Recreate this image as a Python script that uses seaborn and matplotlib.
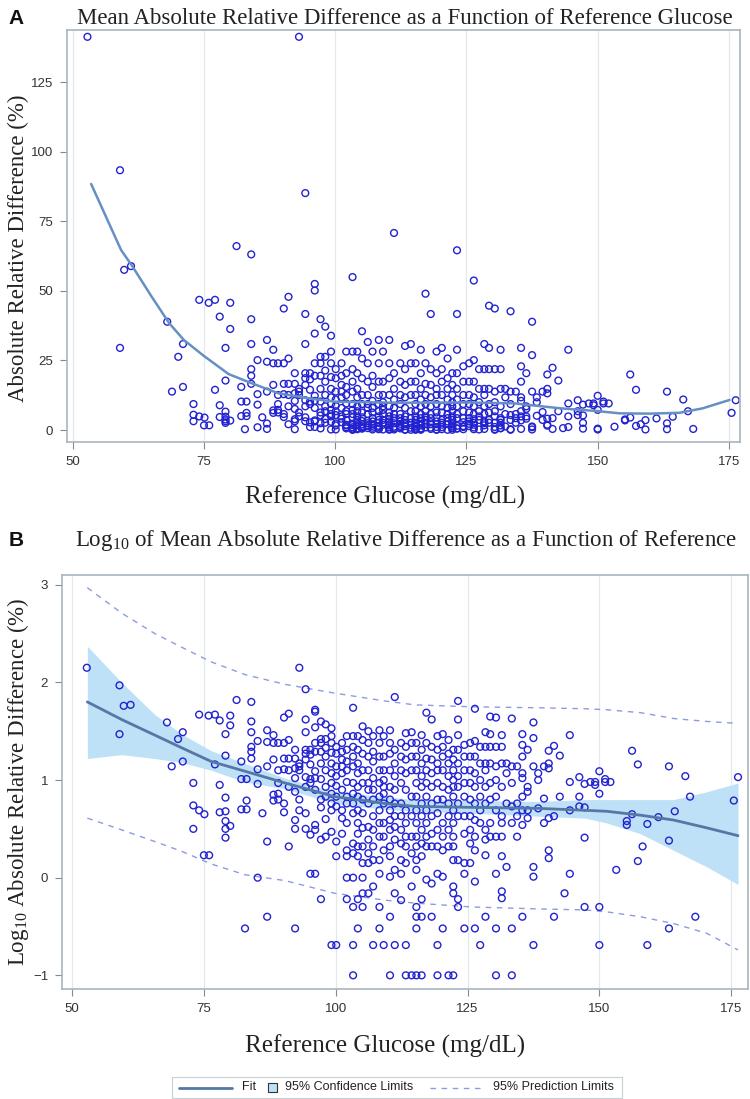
"""Glucose accuracy plots: ARD and log10 ARD against reference glucose."""

import matplotlib

matplotlib.use("Agg")
import matplotlib.pyplot as plt
from matplotlib.patches import Rectangle
import pandas as pd
import seaborn as sns

# Points as (reference glucose, list of log10 ARD values).
columns = [
    (52.8, [2.15]), (59.0, [1.97, 1.47]), (59.8, [1.76]), (61.1, [1.77]),
    (68.0, [1.59]), (68.9, [1.14]), (70.1, [1.42]), (71.0, [1.49, 1.19]),
    (73.0, [0.97, 0.74, 0.50]), (74.1, [1.67, 0.69]), (75.1, [0.65]),
    (75.0, [0.23]), (76.0, [0.23]), (75.9, [1.66]), (77.1, [1.67, 1.16]),
    (78.0, [1.61, 0.95, 0.67]),
    (79.1, [1.47, 1.25, 0.82, 0.68, 0.58, 0.50, 0.41]),
    (80.0, [1.66, 1.56, 0.53]), (81.2, [1.82]), (82.1, [1.19, 1.01, 0.70]),
    (82.8, [-0.52]), (83.1, [1.01, 0.79, 0.70]),
    (84.0, [1.80, 1.60, 1.49, 1.34, 1.29, 1.22]),
    (85.2, [1.40, 1.11, 0.96, 0.00]), (86.1, [0.66]),
    (87.0, [1.51, 1.39, 1.14, 0.37, -0.40]),
    (88.2, [1.46, 1.38, 1.21, 0.85, 0.79]),
    (89.1, [1.38, 1.10, 0.97, 0.86, 0.80]),
    (90.2, [1.64, 1.38, 1.22, 1.11, 0.76, 0.67]),
    (91.1, [1.68, 1.41, 1.22, 1.10, 0.93, 0.32]),
    (92.3, [1.31, 1.22, 1.12, 1.02, 0.88, 0.59, 0.50, -0.52]),
    (93.1, [2.15, 1.17, 1.14, 1.10, 0.80, 0.69]),
    (94.3, [1.93, 1.62, 1.49, 1.31, 1.27, 1.21, 1.03, 0.93, 0.66, 0.50]),
    (95.2, [1.31, 1.26, 1.16, 1.01, 0.97, 0.44, 0.04]),
    (96.1, [1.72, 1.70, 1.54, 1.38, 1.29, 1.09, 1.02, 0.90, 0.54, 0.49,
            0.04]),
    (97.2, [1.60, 1.42, 1.38, 1.29, 1.17, 1.01, 0.80, 0.72, 0.39, -0.22]),
    (98.1, [1.57, 1.42, 1.33, 1.24, 1.10, 0.93, 0.83, 0.60, 0.42]),
    (99.2, [1.53, 1.45, 1.38, 1.28, 1.17, 1.07, 0.97, 0.86, 0.76, 0.69,
            0.47, -0.69]),
    (100.1, [1.34, 1.27, 1.14, 1.04, 0.94, 0.83, 0.73, 0.37, 0.22, -0.69]),
    (101.2, [1.38, 1.29, 1.21, 1.14, 1.07, 0.90, 0.69, 0.61, 0.45]),
    (102.1, [1.45, 1.31, 1.19, 1.10, 0.98, 0.83, 0.76, 0.56, 0.28, 0.22,
             0.00, -0.22]),
    (103.3, [1.74, 1.45, 1.34, 1.24, 1.14, 0.97, 0.86, 0.76, 0.66, 0.35,
             0.25, 0.00, -0.30, -0.69, -1.00]),
    (104.2, [1.45, 1.31, 1.17, 1.07, 0.93, 0.83, 0.69, 0.56, 0.45, 0.32,
             0.22, -0.22, -0.52]),
    (105.1, [1.55, 1.41, 1.27, 1.10, 0.97, 0.80, 0.66, 0.51, 0.32, 0.15,
             0.00, -0.16, -0.30]),
    (106.2, [1.50, 1.38, 1.24, 1.10, 0.97, 0.90, 0.76, 0.52, 0.39, 0.25,
             0.15, -0.16]),
    (107.1, [1.45, 1.29, 1.19, 1.02, 0.90, 0.80, 0.63, 0.49, 0.32, 0.18,
             -0.09, -0.69]),
    (108.3, [1.51, 1.38, 1.24, 1.10, 0.97, 0.83, 0.69, 0.56, 0.42, 0.18,
             0.04, -0.30, -0.52]),
    (109.1, [1.45, 1.24, 1.10, 1.00, 0.93, 0.86, 0.76, 0.56, 0.42, 0.28,
             -0.69]),
    (110.3, [1.51, 1.38, 1.27, 1.10, 0.93, 0.80, 0.69, 0.59, 0.49, 0.32,
             0.22, 0.01, -0.40, -1.00]),
    (111.2, [1.85, 1.31, 1.17, 1.04, 0.90, 0.76, 0.63, 0.52, 0.39, 0.08,
             -0.16, -0.69]),
    (112.4, [1.38, 1.24, 1.10, 0.97, 0.76, 0.63, 0.49, 0.35, 0.18, 0.04,
             -0.23]),
    (113.3, [1.48, 1.34, 1.21, 1.07, 0.90, 0.69, 0.56, 0.42, 0.32, 0.15,
             -0.69, -1.00]),
    (114.4, [1.49, 1.38, 1.24, 1.10, 0.83, 0.63, 0.42, 0.25, -0.09, -1.00]),
    (115.3, [1.38, 1.24, 1.10, 0.97, 0.83, 0.69, 0.56, 0.42, 0.32, 0.18,
             0.08, -0.30, -0.40, -0.52, -1.00]),
    (116.3, [1.46, 1.31, 1.17, 1.04, 0.93, 0.76, 0.63, 0.49, 0.35, 0.22,
             -0.22, -0.40, -1.00]),
    (117.2, [1.69, 1.38, 1.22, 1.10, 0.97, 0.83, 0.69, 0.56, 0.42, 0.32,
             -0.02]),
    (118.2, [1.62, 1.34, 1.21, 1.07, 0.93, 0.76, 0.63, 0.45, 0.32, -0.06,
             -0.40]),
    (119.3, [1.45, 1.31, 1.17, 1.10, 0.97, 0.80, 0.66, 0.49, 0.32, 0.04,
             -0.69, -1.00]),
    (120.3, [1.47, 1.34, 1.24, 1.10, 0.93, 0.80, 0.56, 0.42, 0.28, 0.01,
             -0.52]),
    (121.4, [1.41, 1.27, 1.17, 1.04, 0.90, 0.76, 0.63, 0.49, 0.32, -1.00]),
    (122.3, [1.31, 1.21, 1.10, 1.00, 0.93, 0.83, 0.69, 0.56, 0.42, 0.32,
             0.18, -0.09, -0.16, -1.00]),
    (123.2, [1.81, 1.62, 1.46, 1.31, 1.17, 1.04, 0.93, 0.76, 0.63, 0.18,
             -0.22, -0.30]),
    (124.4, [1.36, 1.24, 1.10, 0.97, 0.83, 0.63, 0.45, 0.15, 0.04, -0.52]),
    (125.5, [1.38, 1.24, 1.10, 0.97, 0.80, 0.63, 0.49, 0.35, 0.15]),
    (126.4, [1.73, 1.40, 1.24, 1.07, 0.93, 0.76, 0.59, 0.42, 0.28, -0.04,
             -0.52]),
    (127.4, [1.34, 1.17, 1.00, 0.83, 0.69, 0.56, -0.69]),
    (128.4, [1.49, 1.34, 1.17, 1.10, 0.93, 0.76, 0.49, 0.39, 0.23, -0.40]),
    (129.3, [1.65, 1.47, 1.34, 1.17, 0.97, 0.80, 0.56, 0.42]),
    (130.4, [1.64, 1.34, 1.14, 1.00, 0.83, 0.69, 0.42, 0.04, -0.52, -1.00]),
    (131.5, [1.46, 1.34, 1.17, 0.93, 0.63, 0.56, 0.42, 0.22, -0.14, -0.21]),
    (132.4, [1.17, 1.07, 0.76, 0.11]),
    (133.4, [1.63, 1.14, 0.97, 0.73, 0.56, -0.52, -1.00]),
    (134.4, [1.14, 0.76, 0.63, 0.42]),
    (135.4, [1.47, 1.36, 1.24, 1.07, 1.02, 0.83, 0.69, 0.54, -0.40]),
    (136.4, [1.31, 0.93, 0.88, 0.69, 0.61]),
    (137.5, [1.59, 1.43, 1.14, 0.11, 0.01, -0.69]),
    (138.4, [1.07, 1.00, 0.71]), (139.5, [1.14, 0.81, 0.56]),
    (140.4, [1.30, 1.17, 1.12, 0.61, 0.28, 0.20]),
    (141.4, [1.35, 0.63, -0.40]), (142.5, [1.25, 0.83]), (143.4, [-0.16]),
    (144.4, [1.46, 0.98, 0.69, 0.04]), (146.2, [1.03, 0.83, 0.73]),
    (147.2, [0.96, 0.72, 0.41, -0.30]), (148.3, [0.98]),
    (149.2, [0.98, 0.95]), (150.0, [1.09, 0.86, -0.30, -0.69]),
    (151.1, [1.01, 0.98]), (152.1, [0.98]), (153.2, [0.08]),
    (155.2, [0.58, 0.54]), (156.2, [1.30, 0.65]), (157.3, [1.16, 0.17]),
    (158.2, [0.32]), (159.1, [0.55, -0.69]), (161.2, [0.62]),
    (163.2, [1.14, 0.38, -0.52]), (164.3, [0.68]), (166.3, [1.04]),
    (167.2, [0.83]), (168.2, [-0.40]), (175.5, [0.79]), (176.3, [1.03]),
]

# Panel A smooth curve (ARD, %)
fit_a_glucose = [53.5, 59.2, 61.4, 65.0, 68.4, 71.2, 75.0, 79.7, 84.1, 89.2,
                 94.9, 99.9, 111.9, 125.0, 134.0, 142.9, 150.0, 154.2, 160.0,
                 165.6, 170.0, 175.1]
fit_a_ard = [88.4, 64.7, 58.7, 48.0, 38.3, 32.3, 26.6, 20.1, 16.8, 13.2,
             11.4, 10.2, 9.8, 9.9, 9.6, 7.8, 6.8, 6.0, 5.9, 6.2, 7.8, 10.8]

# Panel B fit, confidence and prediction limits (log10 ARD)
fit_b_glucose = [52.9, 59.4, 65.7, 70.8, 76.4, 82.8, 90.4, 99.8, 109.3,
                 115.0, 125.8, 138.4, 147.3, 151.4, 157.8, 164.1, 170.4,
                 176.3]
fit_b = [1.80, 1.62, 1.46, 1.33, 1.19, 1.09, 0.97, 0.83, 0.76, 0.73, 0.72,
         0.71, 0.69, 0.68, 0.64, 0.59, 0.51, 0.43]
ci_upper = [2.37, 2.00, 1.67, 1.47, 1.30, 1.17, 1.02, 0.88, 0.83, 0.80,
            0.79, 0.78, 0.80, 0.80, 0.80, 0.80, 0.88, 0.97]
ci_lower = [1.22, 1.26, 1.22, 1.18, 1.10, 0.98, 0.91, 0.76, 0.70, 0.68,
            0.66, 0.63, 0.61, 0.56, 0.45, 0.28, 0.11, -0.07]
pred_upper = [2.97, 2.71, 2.50, 2.36, 2.21, 2.08, 1.98, 1.89, 1.81, 1.77,
              1.75, 1.74, 1.73, 1.72, 1.69, 1.63, 1.60, 1.58]
pred_lower = [0.61, 0.49, 0.37, 0.27, 0.14, 0.03, -0.03, -0.16, -0.23, -0.26,
              -0.30, -0.32, -0.33, -0.35, -0.40, -0.47, -0.57, -0.74]

points = pd.DataFrame(
    [(g, v) for g, vals in columns for v in vals],
    columns=["glucose", "log_ard"],
)
points["ard"] = 10 ** points["log_ard"]

sns.set_theme(style="white")
plt.rcParams["font.family"] = ["Liberation Sans", "DejaVu Sans"]
plt.rcParams["mathtext.default"] = "regular"

MARKER = "#2222d0"
SPINE = "#a8b6bd"
FIT_COLOR = "#5577a6"
CI_COLOR = "#bfe1f7"
PRED_COLOR = "#8d9be0"
SERIF = ["Liberation Serif", "DejaVu Serif"]

fig = plt.figure(figsize=(7.5, 10.99), dpi=100)
ax_a = fig.add_axes([0.0893, 0.5978, 0.8973, 0.3749])
ax_b = fig.add_axes([0.0827, 0.1001, 0.9147, 0.3767])


def style_axes(ax, xlim, ylim, yticks, ylabel):
    ax.set_xlim(*xlim)
    ax.set_ylim(*ylim)
    ax.set_xticks([50, 75, 100, 125, 150, 175])
    ax.set_yticks(yticks)
    ax.grid(axis="x", color="#e4e8ea", linewidth=0.9)
    ax.set_axisbelow(True)
    for spine in ax.spines.values():
        spine.set_color(SPINE)
        spine.set_linewidth(1.2)
    ax.tick_params(axis="both", which="major", direction="out", length=5,
                   width=0.8, color="#888888", labelsize=9.5,
                   labelcolor="#333333", left=True, bottom=True, pad=5)
    ax.set_xlabel("Reference Glucose (mg/dL)", family=SERIF, fontsize=18,
                  color="#222222")
    ax.set_ylabel(ylabel, family=SERIF, fontsize=16.5, color="#222222")


# Panel A
sns.scatterplot(data=points, x="glucose", y="ard", ax=ax_a, marker="o",
                s=24, facecolor="none", edgecolor=MARKER, linewidth=1.0,
                legend=False)
sns.lineplot(x=fit_a_glucose, y=fit_a_ard, ax=ax_a, color="#6690c4",
             linewidth=1.8, sort=False)
style_axes(ax_a, (48.9, 177.1), (-4.3, 143.7), [0, 25, 50, 75, 100, 125],
           "Absolute Relative Difference (%)")
ax_a.xaxis.set_label_coords(0.473, -0.105)
ax_a.yaxis.set_label_coords(-0.057, 0.47)

# Panel B
ax_b.fill_between(fit_b_glucose, ci_lower, ci_upper, color=CI_COLOR,
                  linewidth=0, zorder=1)
sns.scatterplot(data=points, x="glucose", y="log_ard", ax=ax_b, marker="o",
                s=24, facecolor="none", edgecolor=MARKER, linewidth=1.0,
                legend=False, zorder=3)
sns.lineplot(x=fit_b_glucose, y=fit_b, ax=ax_b, color=FIT_COLOR,
             linewidth=2, sort=False, zorder=4)
for band in (pred_upper, pred_lower):
    sns.lineplot(x=fit_b_glucose, y=band, ax=ax_b, color=PRED_COLOR,
                 linewidth=1, linestyle=(0, (4, 4)), sort=False, zorder=2)
style_axes(ax_b, (48.1, 178.2), (-1.14, 3.10), [-1, 0, 1, 2, 3],
           "Log$_{10}$ Absolute Relative Difference (%)")
ax_b.xaxis.set_label_coords(0.471, -0.11)
ax_b.yaxis.set_label_coords(-0.045, 0.5)

# Titles and panel letters
fig.text(0.54, 0.9836,
         "Mean Absolute Relative Difference as a Function of Reference Glucose",
         ha="center", va="center", family=SERIF, fontsize=16.5,
         color="#222222")
fig.text(0.542, 0.5086,
         "Log$_{10}$ of Mean Absolute Relative Difference as a Function of "
         "Reference", ha="center", va="center", family=SERIF, fontsize=16.5,
         color="#222222")
fig.text(0.011, 0.9836, "A", ha="left", va="center", fontsize=15,
         fontweight="bold", color="#111111")
fig.text(0.011, 0.5086, "B", ha="left", va="center", fontsize=15,
         fontweight="bold", color="#111111")

# Legend box under panel B, laid out in pixel units (450 x 21)
ax_leg = fig.add_axes([172 / 750, 1 - 1098 / 1099, 450 / 750, 21 / 1099])
ax_leg.set_xlim(0, 450)
ax_leg.set_ylim(0, 21)
ax_leg.set_xticks([])
ax_leg.set_yticks([])
for spine in ax_leg.spines.values():
    spine.set_color("#c8d0d4")
    spine.set_linewidth(0.8)
ax_leg.plot([7, 60], [10.5, 10.5], color=FIT_COLOR, linewidth=2)
ax_leg.text(70, 10.5, "Fit", va="center", fontsize=9, color="#222222")
ax_leg.add_patch(Rectangle((96, 6), 9, 9, facecolor=CI_COLOR,
                           edgecolor="#333333", linewidth=0.8))
ax_leg.text(113, 10.5, "95% Confidence Limits", va="center", fontsize=9,
            color="#222222")
ax_leg.plot([258, 310], [10.5, 10.5], color=PRED_COLOR, linewidth=1,
            linestyle=(0, (4, 4)))
ax_leg.text(321, 10.5, "95% Prediction Limits", va="center", fontsize=9,
            color="#222222")

fig.savefig("out.png", dpi=100)
